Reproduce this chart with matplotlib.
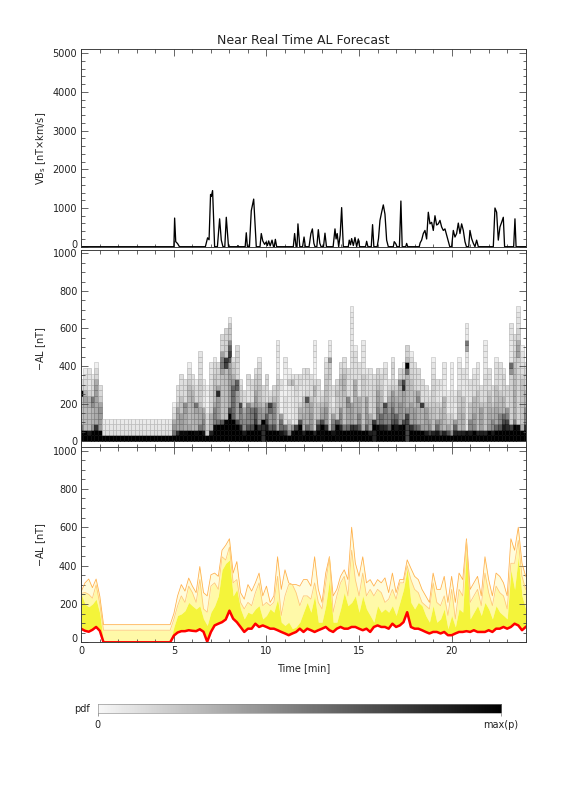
import numpy as np
import matplotlib
matplotlib.use("Agg")
import matplotlib.pyplot as plt
import matplotlib.transforms as mtrans
from matplotlib.ticker import MultipleLocator

"""
Near real time AL forecast: VBs driver, pdf of -AL and its quantile bands
"""

# ---- data ------------------------------------------------------------------
# VBs driver, knots of the spiky line (time in min, value in nT x km/s)
vbs_time = [0, 5.0, 5.04, 5.1, 5.2, 5.3,
            6.7, 6.82, 6.9, 6.98, 7.02, 7.09, 7.2,
            7.35, 7.47, 7.56, 7.65, 7.75, 7.83, 7.95,
            8.42, 8.46, 8.5, 8.85, 8.91, 8.97,
            9.08, 9.18, 9.31, 9.45,
            9.65, 9.72, 9.8, 9.9, 9.98, 10.05, 10.12, 10.2, 10.3, 10.38, 10.42, 10.48, 10.55,
            11.45, 11.52, 11.6, 11.65, 11.7, 11.8,
            11.95, 12.03, 12.1,
            12.3, 12.4, 12.48, 12.56, 12.62,
            12.72, 12.8, 12.88, 12.95,
            13.08, 13.16, 13.24,
            13.6, 13.7, 13.76, 13.82, 13.9, 13.98, 14.06, 14.15,
            14.42, 14.47, 14.54, 14.6, 14.69, 14.78, 14.87, 14.96, 15.03,
            15.35, 15.41, 15.48,
            15.66, 15.73, 15.8,
            15.98, 16.05, 16.13, 16.22, 16.31, 16.4, 16.49, 16.58,
            16.85, 16.9, 16.98, 17.05,
            17.18, 17.26, 17.33,
            17.52, 17.57, 17.63,
            18.25, 18.3, 18.38, 18.47, 18.56, 18.65, 18.74, 18.83, 18.92, 19.01, 19.1,
            19.19, 19.28, 19.37, 19.46, 19.55, 19.64, 19.73, 19.82, 19.9,
            20.0, 20.09, 20.18, 20.27, 20.36, 20.45, 20.54, 20.63, 20.72, 20.8,
            20.92, 20.99, 21.08, 21.17, 21.26, 21.35, 21.44,
            22.25, 22.34, 22.43, 22.52, 22.61, 22.7, 22.79, 22.86,
            23.35, 23.42, 23.48, 24.0]
vbs_vals = [0, 0, 740, 130, 80, 0,
            0, 230, 180, 1350, 1300, 1450, 0,
            0, 720, 170, 0, 0, 760, 0,
            0, 30, 0, 0, 360, 0,
            0, 930, 1230, 0,
            0, 340, 150, 60, 120, 30, 150, 20, 170, 0, 0, 190, 0,
            0, 340, 0, 0, 590, 0,
            0, 250, 0,
            0, 340, 460, 90, 0,
            0, 440, 90, 0,
            0, 350, 0,
            0, 460, 200, 340, 0, 300, 1010, 0,
            0, 170, 50, 210, 30, 240, 0, 200, 0,
            0, 140, 0,
            0, 570, 0,
            0, 210, 680, 890, 1080, 840, 170, 0,
            0, 130, 80, 0,
            0, 1180, 0,
            0, 85, 0,
            0, 100, 170, 340, 420, 200, 890, 590, 630, 420, 800,
            560, 590, 680, 510, 420, 460, 300, 130, 0,
            0, 420, 250, 340, 610, 340, 590, 420, 130, 0,
            0, 420, 210, 90, 0, 170, 0,
            0, 1000, 890, 170, 510, 630, 760, 0,
            0, 720, 0, 0]

# -AL forecast distribution, sampled every 0.2 min from 0 to 24
time = np.round(np.arange(121) * 0.2, 1)

al_med = [70, 60, 55, 65, 80, 60] + [0] * 19 + [
    35, 51, 58, 58, 63, 60, 58, 68, 55, 3,
    54, 88, 97, 105, 119, 165, 123, 105, 80, 54,
    71, 71, 97, 80, 88, 80, 71, 71, 63, 54,
    46, 37, 46, 54, 71, 54, 71, 63, 54, 63,
    71, 80, 63, 54, 71, 80, 71, 71, 80, 80,
    71, 63, 71, 54, 80, 88, 80, 80, 71, 97,
    80, 88, 105, 157, 80, 71, 71, 63, 54, 46,
    54, 54, 46, 54, 37, 37, 46, 54, 54, 58,
    54, 63, 54, 54, 54, 63, 54, 71, 71, 80,
    71, 80, 97, 88, 63, 80]

al_q75 = [250, 200, 185, 200, 225, 150] + [0] * 19 + [
    80, 140, 148, 165, 208, 190, 174, 190, 122, 88,
    157, 190, 242, 378, 412, 429, 242, 276, 174, 122,
    157, 148, 174, 191, 122, 140, 174, 157, 225, 105,
    88, 105, 71, 80, 105, 157, 208, 157, 242, 105,
    105, 191, 327, 105, 105, 174, 259, 191, 208, 242,
    157, 242, 174, 140, 105, 191, 157, 174, 157, 191,
    140, 208, 276, 386, 208, 174, 208, 191, 140, 105,
    191, 105, 122, 174, 71, 140, 80, 174, 157, 490,
    122, 157, 191, 140, 208, 174, 122, 191, 157, 140,
    122, 378, 276, 446, 242, 174]

al_q90 = [255, 260, 250, 230, 300, 200] + [63] * 19 + [
    120, 190, 242, 208, 293, 259, 208, 327, 174, 157,
    293, 310, 276, 446, 429, 497, 310, 327, 208, 174,
    208, 191, 259, 310, 191, 208, 191, 208, 344, 140,
    242, 301, 301, 259, 191, 242, 242, 225, 310, 208,
    174, 310, 446, 157, 242, 310, 344, 242, 480, 327,
    242, 361, 242, 276, 242, 276, 259, 208, 225, 276,
    225, 310, 310, 400, 327, 276, 259, 208, 191, 174,
    310, 208, 191, 242, 140, 276, 122, 276, 242, 530,
    208, 242, 276, 191, 361, 259, 191, 293, 259, 242,
    174, 412, 412, 531, 344, 276]

al_q95 = [265, 310, 330, 285, 330, 240] + [92] * 19 + [
    150, 242, 301, 267, 335, 293, 259, 395, 259, 242,
    352, 361, 344, 480, 506, 540, 361, 421, 259, 225,
    301, 267, 310, 361, 242, 293, 208, 242, 446, 276,
    378, 310, 301, 301, 293, 327, 327, 293, 446, 276,
    208, 361, 446, 242, 276, 344, 378, 327, 600, 412,
    344, 446, 310, 327, 293, 327, 310, 336, 259, 361,
    259, 327, 327, 430, 386, 344, 327, 276, 242, 208,
    361, 276, 276, 344, 208, 344, 208, 361, 327, 540,
    276, 310, 344, 242, 446, 327, 242, 361, 344, 310,
    242, 540, 480, 600, 412, 344]

al_edges = np.arange(0, 1021, 30)


def column_pdf(med, q75, q90, q95, edges):
    # piecewise uniform density between the quantiles, scaled to the column max
    pieces = [(0, med, 0.50), (med, q75, 0.25), (q75, q90, 0.15),
              (q90, q95, 0.05), (q95, q95 * 1.15 + 20, 0.05)]
    p = np.zeros(len(edges) - 1)
    for lo, hi, mass in pieces:
        if hi - lo < 1:
            k = min(np.searchsorted(edges, lo, side="right") - 1, len(p) - 1)
            p[k] += mass
        else:
            overlap = np.clip(np.minimum(edges[1:], hi) - np.maximum(edges[:-1], lo), 0, None)
            p += mass * overlap / (hi - lo)
    return p / p.max()


# ---- figure ----------------------------------------------------------------
plt.rcParams["font.family"] = ["DejaVu Sans"]
TXT = "#222222"
FS = 9.8

fig = plt.figure(figsize=(8, 11), dpi=72)
W, H = 576.0, 792.0
left, right = 81.3 / W, 525.7 / W
ax1 = fig.add_axes([left, 1 - 246.7 / H, right - left, 197.4 / H])
ax2 = fig.add_axes([left, 1 - 446.7 / H, right - left, 196.7 / H])
ax3 = fig.add_axes([left, 1 - 642.3 / H, right - left, 195.6 / H])


def style(ax, ylim, ymajor, yminor):
    ax.set_xlim(0, 24)
    ax.set_ylim(*ylim)
    ax.xaxis.set_major_locator(MultipleLocator(5))
    ax.xaxis.set_minor_locator(MultipleLocator(1))
    ax.yaxis.set_major_locator(MultipleLocator(ymajor))
    ax.yaxis.set_minor_locator(MultipleLocator(yminor))
    ax.tick_params(which="both", direction="in", top=True, right=True,
                   labelsize=FS, labelcolor=TXT, color="#444444", width=0.8)
    ax.tick_params(which="major", length=7, pad=4)
    ax.tick_params(which="minor", length=3.5)
    for s in ax.spines.values():
        s.set_color("#333333")
        s.set_linewidth(0.9)
    ax.yaxis.set_label_coords(-0.09, 0.5)
    ax.yaxis.label.set_va("center")
    ax.yaxis.label.set_color(TXT)
    ax.yaxis.label.set_size(FS)


# top panel: VBs
ax1.plot(vbs_time, vbs_vals, color="black", lw=1.3)
style(ax1, (0, 5100), 1000, 200)
ax1.set_yticks(np.arange(0, 5001, 1000))
ax1.tick_params(labelbottom=False)
ax1.set_ylabel("VB$_{\\rm s}$ [nT$\\times$km/s]")
ax1.set_title("Near Real Time AL Forecast", fontsize=12.5, color=TXT, pad=5)

# middle panel: pdf of -AL
xs, bots, vals = [], [], []
for i, t in enumerate(time):
    p = column_pdf(al_med[i], al_q75[i], al_q90[i], al_q95[i], al_edges)
    for j in np.nonzero(p > 0.03)[0]:
        xs.append(t)
        bots.append(al_edges[j])
        vals.append(p[j])
vals = np.array(vals) ** 0.85
faces = plt.cm.gray_r(vals)
edges = plt.cm.gray_r(np.clip(vals + 0.22, 0, 1))
ax2.bar(xs, np.diff(al_edges)[0], width=0.2, bottom=bots, color=faces,
        edgecolor=edges, linewidth=0.5)
style(ax2, (-30, 1018), 200, 50)
ax2.set_yticks(np.arange(0, 1001, 200))
ax2.tick_params(labelbottom=False)
ax2.set_ylabel("$-$AL [nT]")

# bottom panel: quantile bands and median
ax3.fill_between(time, al_q90, al_q95, color="#FFFCDC", lw=0)
ax3.fill_between(time, al_q75, al_q90, color="#FFF9A8", lw=0)
ax3.fill_between(time, al_med, al_q75, color="#F4F43A", lw=0)
ax3.plot(time, al_q95, color="#FFB04A", lw=0.8)
ax3.plot(time, al_q90, color="#FFC878", lw=0.8)
ax3.plot(time, al_med, color="#FF0000", lw=2.5)
style(ax3, (0, 1020), 200, 50)
ax3.set_yticks(np.arange(0, 1001, 200))
ax3.set_ylabel("$-$AL [nT]")
ax3.set_xlabel("Time [min]", fontsize=FS, color=TXT)
ax3.xaxis.set_label_coords(0.5, -0.13)
ax3.xaxis.label.set_va("center")

# IDL-like placement of the 0 labels that sit on the lower frame
for ax, dy in ((ax1, 3), (ax3, 4)):
    for lab in ax.get_yticklabels():
        if lab.get_text() == "0":
            lab.set_transform(lab.get_transform() + mtrans.ScaledTranslation(0, dy / 72, fig.dpi_scale_trans))

# colour bar for the pdf
cax = fig.add_axes([97.7 / W, 1 - 713.3 / H, 403.3 / W, 9 / H])
cax.imshow(np.linspace(0, 1, 256)[None, :], aspect="auto", cmap="gray_r",
           extent=[0, 1, 0, 1], vmin=-0.03, vmax=1)
cax.set_yticks([])
cax.set_xticks([0, 1])
cax.set_xticklabels(["0", "max(p)"])
cax.tick_params(direction="out", length=3, pad=4, labelsize=FS, labelcolor=TXT, color="#888888")
for s in cax.spines.values():
    s.set_color("#888888")
    s.set_linewidth(0.6)
fig.text(90 / W, 1 - 709 / H, "pdf", ha="right", va="center", fontsize=FS, color=TXT)

fig.savefig("out.png", dpi=72)
